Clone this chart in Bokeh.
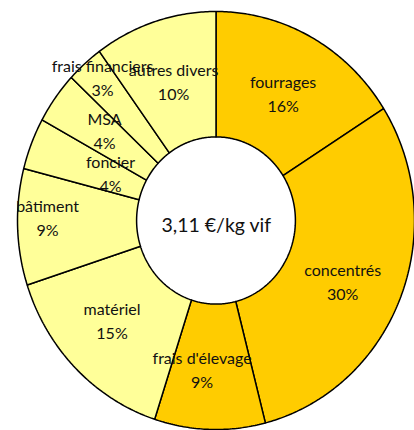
import numpy as np
from bokeh.plotting import figure
from bokeh.models import Range1d, ColumnDataSource
from bokeh.core.properties import value
from bokeh.embed import file_html
from bokeh.resources import INLINE

# ---- data ----
categories = ["fourrages", "concentrés", "frais d'élevage", "matériel", "bâtiment",
              "foncier", "MSA", "frais financiers", "autres divers"]
shares = [16, 30, 9, 15, 9, 4, 4, 3, 10]
feed_group = [True, True, True, False, False, False, False, False, False]
center_label = "3,11 €/kg vif"

# ---- layout / style ----
DARK = "#FFCC00"
LIGHT = "#FFFF99"
W, H = 414, 430
CX, CY = 215.5, 220.0      # pixel centre in figure
RX, RY = 198.5, 209.0      # outer radii in pixels
INNER = 0.4
FONT = "Lato"
label_r = [0.66, 0.72, 0.757, 0.737, 0.849, 0.563, 0.685, 0.859, 0.66]
label_shift = [2.0, 6.0, 3.5, 0.3, 0.0, -2.3, -1.1, -0.3, -0.9]
LINE_GAP = 12.0            # px from anchor to each baseline
TEXT_RAISE = 8.5           # px correction of label baseline
CENTER_RAISE = 12.0

p = figure(width=W, height=H, output_backend="svg", toolbar_location=None,
           x_range=Range1d(-CX / RX, (W - CX) / RX),
           y_range=Range1d(-(H - CY) / RY, CY / RY),
           min_border=0, x_axis_type=None, y_axis_type=None,
           outline_line_color=None, background_fill_color="white",
           border_fill_color="white")
p.xgrid.visible = False
p.ygrid.visible = False

cum = np.concatenate([[0.0], np.cumsum(shares)]) / float(sum(shares))
xs, ys, cols = [], [], []
for i in range(len(shares)):
    t = np.linspace(cum[i], cum[i + 1], max(8, int(shares[i] * 6))) * 2 * np.pi
    phi = np.pi / 2 - t
    ox, oy = np.cos(phi), np.sin(phi)
    ix, iy = INNER * np.cos(phi[::-1]), INNER * np.sin(phi[::-1])
    xs.append(list(np.concatenate([ox, ix])))
    ys.append(list(np.concatenate([oy, iy])))
    cols.append(DARK if feed_group[i] else LIGHT)

p.patches(xs, ys, fill_color=cols, line_color="black", line_width=1.5)

ax, ay, names, pcts = [], [], [], []
for i in range(len(shares)):
    mid = np.radians((cum[i] + cum[i + 1]) / 2 * 360 + label_shift[i])
    ax.append(label_r[i] * np.sin(mid))
    ay.append(label_r[i] * np.cos(mid))
    names.append(categories[i])
    pcts.append(f"{shares[i]}%")

ax = np.array(ax)
ay = np.array(ay) + TEXT_RAISE / RY
src_n = ColumnDataSource(dict(x=ax, y=ay + LINE_GAP / RY, t=names))
src_p = ColumnDataSource(dict(x=ax, y=ay - LINE_GAP / RY, t=pcts))
for src in (src_n, src_p):
    p.text(x="x", y="y", text="t", source=src, text_align="center",
           text_baseline="alphabetic", text_font=value(FONT),
           text_font_size="16px", text_color="#111111")

p.text(x=[0.5 / RX], y=[(-16.0 + CENTER_RAISE) / RY], text=[center_label],
       text_align="center", text_baseline="alphabetic", text_font=value(FONT),
       text_font_size="19.5px", text_color="#111111")

open("out.html", "w").write(file_html(p, INLINE))
